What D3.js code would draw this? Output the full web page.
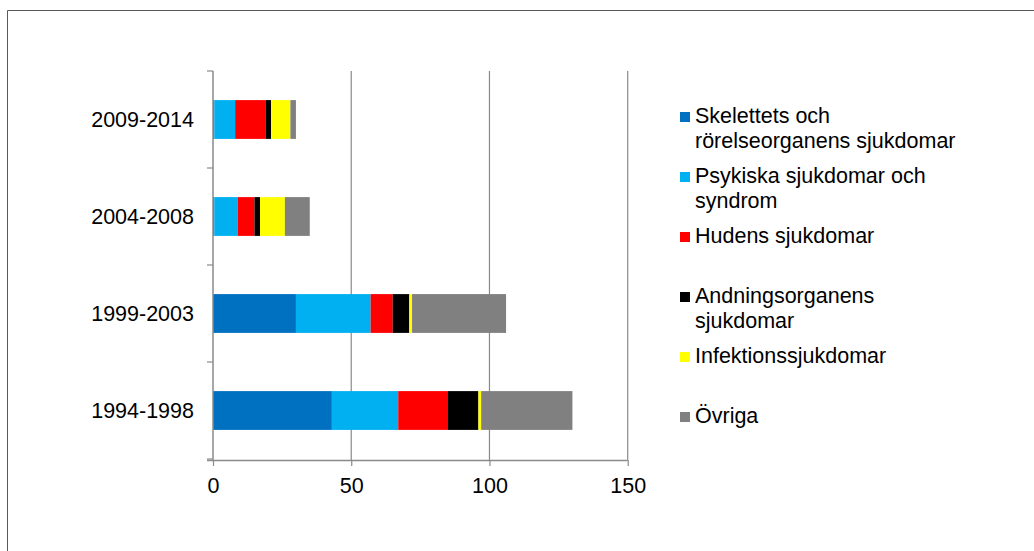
<!DOCTYPE html>
<html>
<head>
<meta charset="utf-8">
<script src="https://cdn.jsdelivr.net/npm/d3@7"></script>
<style>
  html, body { margin: 0; padding: 0; background: #fff; }
  svg { display: block; }
  text { font-family: "Liberation Sans", Arial, sans-serif; fill: #000; }
</style>
</head>
<body>
<svg id="chart" width="1034" height="551"></svg>
<script>
// ---- data ----
const categories = ["2009-2014", "2004-2008", "1999-2003", "1994-1998"];
const seriesNames = [
  "Skelettets och rörelseorganens sjukdomar",
  "Psykiska sjukdomar och syndrom",
  "Hudens sjukdomar",
  "Andningsorganens sjukdomar",
  "Infektionssjukdomar",
  "Övriga"
];
const legendLines = [
  ["Skelettets och", "rörelseorganens sjukdomar"],
  ["Psykiska sjukdomar och", "syndrom"],
  ["Hudens sjukdomar"],
  ["Andningsorganens", "sjukdomar"],
  ["Infektionssjukdomar"],
  ["Övriga"]
];
const skelettets   = [0.5, 0.5, 30, 43];
const psykiska     = [7.5, 8.5, 27, 24];
const hudens       = [11, 6, 8, 18];
const andnings     = [2, 2, 6, 11];
const infektions   = [7, 9, 1, 1];
const ovriga       = [2, 9, 34, 33];
const xTicks = [0, 50, 100, 150];
const colors = ["#0070C0", "#00B0F0", "#FF0000", "#000000", "#FFFF00", "#808080"];

const seriesValues = [skelettets, psykiska, hudens, andnings, infektions, ovriga];
const rows = categories.map((c, i) => {
  const r = { cat: c };
  seriesNames.forEach((s, j) => r[s] = seriesValues[j][i]);
  return r;
});

// ---- layout ----
const FS = "21.5px";
const svg = d3.select("#chart");
const plot = { left: 213, right: 627.7, top: 71, bottom: 459 };

// outer frame
svg.append("path")
  .attr("d", "M7.5,551 L7.5,10.5 L1034,10.5")
  .attr("fill", "none").attr("stroke", "#595959").attr("stroke-width", 1);

const x = d3.scaleLinear().domain([0, 150]).range([plot.left, plot.right]);
const y = d3.scaleBand().domain(categories).range([plot.top, plot.bottom])
  .paddingInner(0.6).paddingOuter(0.3);

// gridlines
svg.append("g").selectAll("line").data(xTicks.slice(1)).join("line")
  .attr("x1", d => x(d)).attr("x2", d => x(d))
  .attr("y1", plot.top).attr("y2", plot.bottom + 1)
  .attr("stroke", "#8a8a8a").attr("stroke-width", 1.2);

// stacked bars
const stack = d3.stack().keys(seriesNames);
const stacked = stack(rows);
svg.append("g").selectAll("g").data(stacked).join("g")
  .attr("fill", (d, i) => colors[i])
  .selectAll("rect").data(d => d).join("rect")
  .attr("x", d => x(d[0]))
  .attr("width", d => x(d[1]) - x(d[0]))
  .attr("y", d => y(d.data.cat))
  .attr("height", y.bandwidth());

// x axis
const xAxis = d3.axisBottom(x).tickValues(xTicks).tickSize(6).tickSizeOuter(0).tickFormat(d3.format("d"));
const gx = svg.append("g").attr("transform", `translate(0,${plot.bottom + 1})`).call(xAxis);
gx.select(".domain").attr("d", `M${plot.left - 6},0.5H${plot.right}`).attr("stroke", "#8a8a8a").attr("stroke-width", 1.5);
gx.selectAll(".tick line").attr("stroke", "#8a8a8a").attr("stroke-width", 1.2);
gx.selectAll(".tick text").attr("y", 0).attr("dy", 0)
  .attr("transform", "translate(0,32.5)")
  .style("font-size", FS).style("font-family", '"Liberation Sans", Arial, sans-serif').attr("fill", "#000");

// y axis line
svg.append("line")
  .attr("x1", plot.left).attr("x2", plot.left)
  .attr("y1", plot.top).attr("y2", plot.bottom + 1)
  .attr("stroke", "#8a8a8a").attr("stroke-width", 1.5);
// y ticks at band boundaries
const step = y.step();
const bounds = d3.range(categories.length + 1).map(i => plot.top + i * step);
svg.append("g").selectAll("line").data(bounds).join("line")
  .attr("x1", plot.left - 6).attr("x2", plot.left)
  .attr("y1", d => d).attr("y2", d => d)
  .attr("stroke", "#8a8a8a").attr("stroke-width", 1.2);
// category labels
svg.append("g").selectAll("text").data(categories).join("text")
  .attr("x", 194)
  .attr("y", d => y(d) + y.bandwidth() / 2)
  .attr("dy", "0.36em")
  .attr("text-anchor", "end")
  .style("font-size", FS)
  .text(d => d);

// legend
const legendBaselines = [122.5, 182.5, 242.5, 302.5, 362.5, 422.5];
const lg = svg.append("g");
const items = lg.selectAll("g").data(seriesNames).join("g")
  .attr("transform", (d, i) => `translate(680,${legendBaselines[i]})`);
items.append("rect")
  .attr("x", 0).attr("y", -10.5).attr("width", 10).attr("height", 10)
  .attr("fill", (d, i) => colors[i]);
items.each(function(d, i) {
  const t = d3.select(this).append("text").attr("x", 15).attr("y", 0).style("font-size", FS);
  legendLines[i].forEach((line, k) => {
    t.append("tspan").attr("x", 15).attr("y", k * 25).text(line);
  });
});
</script>
</body>
</html>
